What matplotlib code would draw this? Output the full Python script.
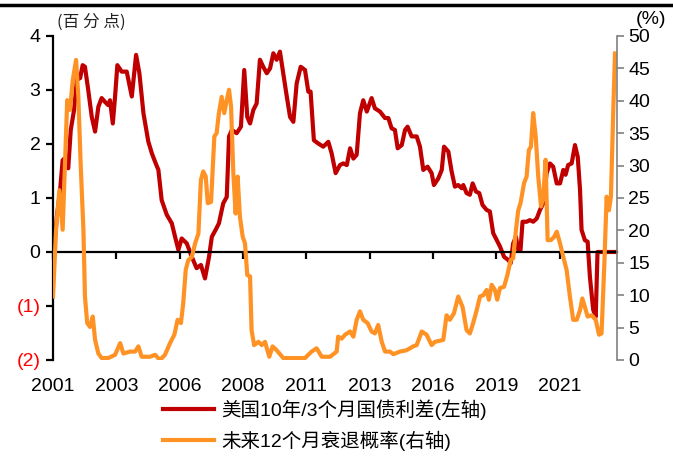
import numpy as np
import matplotlib
matplotlib.use("Agg")
import matplotlib.pyplot as plt
from matplotlib.lines import Line2D

plt.rcParams['font.family'] = ['Liberation Sans', 'Noto Sans CJK SC']

# 美国10年/3个月国债利差 (左轴, 百分点)
spread_t = [2001.00, 2001.15, 2001.28, 2001.38, 2001.47, 2001.60, 2001.70, 2001.83, 2001.94, 2002.07,
            2002.17, 2002.26, 2002.39, 2002.53, 2002.66, 2002.79, 2002.92, 2003.05, 2003.18, 2003.25,
            2003.36, 2003.45, 2003.54, 2003.71, 2003.91, 2004.11, 2004.28, 2004.41, 2004.57, 2004.76,
            2004.90, 2005.03, 2005.16, 2005.29, 2005.49, 2005.69, 2005.82, 2005.95, 2006.08, 2006.28,
            2006.48, 2006.67, 2006.84, 2007.00, 2007.16, 2007.27, 2007.42, 2007.55, 2007.72, 2007.86,
            2007.95, 2008.06, 2008.25, 2008.42, 2008.55, 2008.67, 2008.78, 2008.91, 2009.04, 2009.17,
            2009.30, 2009.44, 2009.57, 2009.70, 2009.83, 2009.96, 2010.09, 2010.23, 2010.36, 2010.49,
            2010.62, 2010.78, 2010.95, 2011.08, 2011.17, 2011.30, 2011.47, 2011.67, 2011.87, 2012.00,
            2012.16, 2012.33, 2012.46, 2012.60, 2012.73, 2012.86, 2012.99, 2013.12, 2013.25, 2013.39,
            2013.58, 2013.71, 2013.91, 2014.11, 2014.24, 2014.37, 2014.50, 2014.61, 2014.77, 2014.90,
            2015.00, 2015.16, 2015.36, 2015.49, 2015.62, 2015.79, 2015.95, 2016.04, 2016.21, 2016.35,
            2016.44, 2016.61, 2016.74, 2016.87, 2017.00, 2017.14, 2017.20, 2017.33, 2017.46, 2017.57,
            2017.70, 2017.83, 2017.96, 2018.12, 2018.25, 2018.38, 2018.52, 2018.65, 2018.81, 2018.98,
            2019.07, 2019.17, 2019.28, 2019.37, 2019.46, 2019.54, 2019.70, 2019.83, 2019.96, 2020.10,
            2020.23, 2020.36, 2020.49, 2020.62, 2020.75, 2020.89, 2021.02, 2021.15, 2021.24, 2021.34,
            2021.48, 2021.61, 2021.72, 2021.81, 2021.87, 2022.00, 2022.11, 2022.20, 2022.33, 2022.43,
            2022.50, 2023.27]
spread = [-0.15, 0.65, 1.15, 1.70, 1.74, 1.55, 2.26, 2.63, 3.19, 3.22,
          3.46, 3.43, 3.00, 2.50, 2.23, 2.69, 2.85, 2.78, 2.72, 2.81,
          2.38, 2.88, 3.46, 3.34, 3.34, 2.88, 3.65, 3.31, 2.57, 2.05,
          1.83, 1.67, 1.52, 0.96, 0.69, 0.53, 0.28, 0.04, 0.25, 0.16,
          -0.09, -0.30, -0.24, -0.49, -0.09, 0.28, 0.41, 0.53, 0.90, 1.02,
          2.14, 2.26, 2.20, 2.32, 3.37, 2.50, 2.38, 2.63, 2.75, 3.56,
          3.43, 3.31, 3.40, 3.68, 3.56, 3.71, 3.31, 2.88, 2.50, 2.41,
          3.12, 3.43, 3.37, 2.97, 2.97, 2.07, 2.01, 1.95, 2.04, 1.83,
          1.46, 1.61, 1.64, 1.61, 1.92, 1.73, 1.80, 2.57, 2.81, 2.60,
          2.85, 2.66, 2.60, 2.48, 2.48, 2.29, 2.26, 1.92, 1.98, 2.26,
          2.32, 2.14, 2.14, 1.95, 1.52, 1.58, 1.46, 1.24, 1.36, 1.52,
          1.95, 1.86, 1.49, 1.21, 1.24, 1.18, 1.24, 1.09, 1.06, 1.27,
          1.12, 1.09, 0.87, 0.78, 0.75, 0.35, 0.22, 0.10, -0.09, -0.15,
          -0.21, 0.16, 0.28, 0.04, 0.04, 0.56, 0.56, 0.59, 0.56, 0.62,
          0.78, 0.90, 1.46, 1.64, 1.58, 1.27, 1.27, 1.52, 1.43, 1.61,
          1.64, 1.98, 1.76, 1.15, 0.41, 0.22, 0.19, -0.46, -1.07, -1.20,
          0.00, 0.00]

# 未来12个月衰退概率 (右轴, %)
prob_t = [2001.00, 2001.12, 2001.25, 2001.38, 2001.47, 2001.56, 2001.67, 2001.78, 2001.91, 2002.00,
          2002.09, 2002.20, 2002.26, 2002.35, 2002.46, 2002.57, 2002.66, 2002.79, 2002.92, 2003.18,
          2003.45, 2003.65, 2003.78, 2004.04, 2004.24, 2004.37, 2004.50, 2004.83, 2005.03, 2005.22,
          2005.42, 2005.62, 2005.79, 2005.92, 2006.05, 2006.14, 2006.24, 2006.34, 2006.48, 2006.61,
          2006.74, 2006.84, 2006.93, 2007.03, 2007.11, 2007.24, 2007.37, 2007.46, 2007.55, 2007.66,
          2007.76, 2007.86, 2007.95, 2008.03, 2008.12, 2008.21, 2008.29, 2008.38, 2008.49, 2008.58,
          2008.67, 2008.78, 2008.84, 2008.94, 2009.11, 2009.24, 2009.37, 2009.54, 2009.67, 2009.83,
          2010.09, 2010.49, 2010.95, 2011.21, 2011.41, 2011.61, 2011.94, 2012.20, 2012.26, 2012.40,
          2012.53, 2012.73, 2012.86, 2012.99, 2013.12, 2013.25, 2013.42, 2013.58, 2013.71, 2013.84,
          2013.98, 2014.11, 2014.30, 2014.44, 2014.70, 2014.96, 2015.22, 2015.36, 2015.56, 2015.75,
          2015.95, 2016.08, 2016.41, 2016.54, 2016.67, 2016.83, 2017.00, 2017.17, 2017.33, 2017.46,
          2017.59, 2017.73, 2017.86, 2017.99, 2018.12, 2018.21, 2018.32, 2018.45, 2018.54, 2018.65,
          2018.81, 2018.94, 2019.07, 2019.17, 2019.28, 2019.37, 2019.46, 2019.60, 2019.70, 2019.79,
          2019.87, 2019.96, 2020.06, 2020.16, 2020.27, 2020.36, 2020.45, 2020.53, 2020.66, 2020.79,
          2020.89, 2021.02, 2021.15, 2021.28, 2021.41, 2021.54, 2021.68, 2021.81, 2021.90, 2022.00,
          2022.11, 2022.27, 2022.43, 2022.56, 2022.66, 2022.77, 2022.86, 2022.95, 2023.03, 2023.12,
          2023.19]
prob = [9.8, 20.1, 26.2, 20.1, 30.3, 40.1, 38.6, 43.2, 46.3, 40.6,
        30.3, 20.1, 9.8, 5.7, 5.1, 6.7, 3.1, 1.0, 0.3, 0.3,
        0.8, 2.6, 1.0, 1.3, 1.3, 2.1, 0.5, 0.5, 0.8, 0.0,
        0.8, 2.6, 3.9, 6.2, 5.7, 8.7, 13.9, 15.4, 15.9, 18.0,
        19.5, 27.8, 29.1, 28.3, 24.2, 24.4, 34.5, 35.0, 38.1, 40.6,
        38.1, 40.1, 41.7, 39.1, 28.8, 22.6, 28.3, 22.1, 19.0, 18.0,
        13.1, 12.9, 4.6, 2.3, 2.8, 2.3, 2.8, 0.5, 2.1, 1.5,
        0.3, 0.3, 0.3, 1.3, 1.8, 0.5, 0.5, 1.3, 3.6, 3.3,
        3.9, 4.4, 3.6, 6.2, 7.5, 6.2, 5.7, 4.4, 4.1, 5.4,
        2.8, 1.3, 1.3, 0.9, 1.3, 1.5, 2.1, 2.3, 4.4, 3.9,
        2.3, 2.8, 3.1, 6.9, 6.2, 7.2, 9.8, 8.2, 4.6, 4.1,
        5.7, 7.7, 9.8, 10.0, 10.8, 9.3, 11.6, 10.8, 9.3, 11.1,
        11.3, 13.1, 15.4, 15.7, 20.1, 23.1, 24.2, 27.3, 28.3, 32.4,
        32.9, 38.1, 34.5, 28.3, 23.7, 25.2, 30.9, 18.5, 18.5, 19.0,
        19.8, 18.0, 15.9, 13.9, 9.8, 6.2, 6.2, 7.7, 9.5, 8.2,
        6.7, 6.9, 6.2, 3.9, 4.1, 14.9, 25.2, 23.1, 25.2, 38.1,
        47.3]

tick_pos = [2001.0, 2003.5, 2006.0, 2008.5, 2011.0, 2013.5, 2016.0, 2018.5, 2021.0]
tick_lab = ['2001', '2003', '2006', '2008', '2011', '2013', '2016', '2019', '2021']
left_ticks = [-2, -1, 0, 1, 2, 3, 4]
left_labs = ['(2)', '(1)', '0', '1', '2', '3', '4']

red = '#C00000'
orange = '#FF9224'
fs = 14

fig = plt.figure(figsize=(6.73, 4.59), dpi=100)
ax = fig.add_axes([0.0788, 0.2157, 0.838, 0.7059])
ax2 = ax.twinx()

l1, = ax.plot(spread_t, spread, color=red, lw=3, solid_joinstyle='round')
l2, = ax2.plot(prob_t, prob, color=orange, lw=3, solid_joinstyle='round')

ax.set_xlim(2001.0, 2023.27)
ax.set_ylim(-2, 4)
ax2.set_ylim(0, 50)

ax.spines['top'].set_visible(False)
ax2.spines['top'].set_visible(False)
ax.spines['right'].set_visible(False)
ax2.spines['left'].set_visible(False)
ax2.spines['bottom'].set_visible(False)
ax.spines['bottom'].set_position(('data', 0))
ax.spines['bottom'].set_linewidth(1.6)
ax.spines['left'].set_linewidth(1.6)
ax2.spines['right'].set_color('#808080')
ax2.spines['right'].set_linewidth(1.2)

ax.set_xticks(tick_pos)
ax.set_xticklabels(tick_lab, fontsize=fs)
ax.tick_params(axis='x', direction='out', length=5, width=1.6, pad=86)
ax.set_yticks(left_ticks)
ax.set_yticklabels(left_labs, fontsize=fs)
ax.tick_params(axis='y', direction='out', length=5, width=1.6, pad=4)
for t in ax.get_yticklabels():
    if t.get_text().startswith('('):
        t.set_color('#FF0000')

ax2.set_yticks(np.arange(0, 51, 5))
ax2.tick_params(axis='y', direction='out', length=5, width=1.2, color='#808080',
                labelsize=fs, pad=3)

fig.text(57 / 673, 1 - 22 / 459, '(百 分 点)', fontsize=12, family=['Noto Sans CJK SC'],
         va='center', ha='left', color='#222222')
fig.text(636 / 673, 1 - 20 / 459, '(%)', fontsize=fs, va='center', ha='left')

fig.add_artist(Line2D([0, 0.997], [1 - 5 / 459, 1 - 5 / 459], color='black', lw=2.5,
                      transform=fig.transFigure))

fig.legend([l1, l2], ['美国10年/3个月国债利差(左轴)', '未来12个月衰退概率(右轴)'],
           loc='upper left', bbox_to_anchor=(163 / 673, 1 - 399 / 459), frameon=False,
           fontsize=fs, handlelength=2.6, handletextpad=0.4, labelspacing=0.55,
           borderpad=0, borderaxespad=0)

fig.savefig('out.png', dpi=100)
